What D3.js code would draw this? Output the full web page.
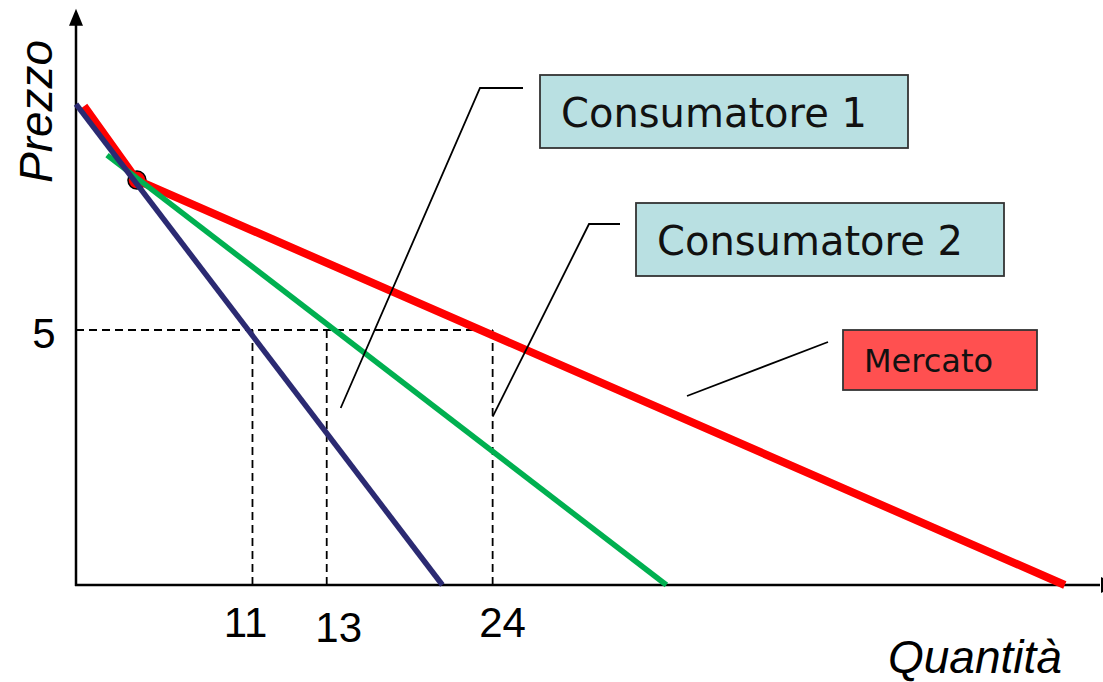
<!DOCTYPE html>
<html>
<head>
<meta charset="utf-8">
<script src="https://cdn.jsdelivr.net/npm/d3@7"></script>
<style>
  body { margin: 0; background: #fff; }
  svg { display: block; }
</style>
</head>
<body>
<svg></svg>
<script>
// demand curves, in chart units (quantity, price)
let consumatore1 = [[0, 9.43], [22.9, 0]]
let consumatore2 = [[1.94, 8.43], [36.9, 0]]
let mercato = [[0.5, 9.39], [3.81, 7.94], [61.8, 0]]
let kink = [[3.81, 7.94]]

// reference price and the quantities read at it
let prezzoRif = 5
let prezzoLabel = "5"
let quantita = [11.03, 15.67, 26.04]
let quantitaLabels = ["11", "13", "24"]

let width = 1103
let height = 682

let xScale
let yScale

let svg = d3.select('svg')

let drawCanvas = () => {
    svg.attr("width", width)
    svg.attr("height", height)
}

let generateScales = () => {
    xScale = d3.scaleLinear()
        .domain([0, 64])
        .range([76, 1100])

    yScale = d3.scaleLinear()
        .domain([0, 11.3])
        .range([585, 8.7])
}

let generateAxis = () => {
    let x0 = xScale(0), y0 = yScale(0)
    let x1 = xScale.range()[1], y1 = yScale.range()[1]

    svg.append("line")
        .attr("x1", x0).attr("y1", y0 + 1)
        .attr("x2", x0).attr("y2", y1 + 12)
        .attr("stroke", "#000").attr("stroke-width", 2.5)
    svg.append("path")
        .attr("d", `M${x0},${y1}L${x0 - 7},${y1 + 17}L${x0 + 7},${y1 + 17}Z`)
        .attr("fill", "#000")

    svg.append("line")
        .attr("x1", x0 - 1).attr("y1", y0)
        .attr("x2", x1).attr("y2", y0)
        .attr("stroke", "#000").attr("stroke-width", 2.5)
    svg.append("path")
        .attr("d", `M${x1 + 17},${y0}L${x1 + 1},${y0 - 8}L${x1 + 1},${y0 + 8}Z`)
        .attr("fill", "#000")

    svg.append("text")
        .attr("transform", "translate(52,183) rotate(-90)")
        .attr("font-family", "Liberation Sans, Arial, sans-serif")
        .attr("font-style", "italic")
        .attr("font-size", 46)
        .text("Prezzo")

    svg.append("text")
        .attr("x", 888).attr("y", 673)
        .attr("font-family", "Liberation Sans, Arial, sans-serif")
        .attr("font-style", "italic")
        .attr("font-size", 46)
        .text("Quantità")
}

let drawGuides = () => {
    let g = svg.append("g")
        .attr("stroke", "#000")
        .attr("stroke-width", 1.8)
        .attr("stroke-dasharray", "8,5")
        .attr("fill", "none")

    g.append("line")
        .attr("x1", xScale(0)).attr("x2", xScale(d3.max(quantita)))
        .attr("y1", yScale(prezzoRif)).attr("y2", yScale(prezzoRif))

    g.selectAll(".vq")
        .data(quantita)
        .enter()
        .append("line")
        .attr("class", "vq")
        .attr("x1", d => xScale(d)).attr("x2", d => xScale(d))
        .attr("y1", yScale(prezzoRif)).attr("y2", yScale(0))

    let dx = [-7, 12, 10]
    let dy = [52, 57, 52]
    svg.selectAll(".ql")
        .data(quantitaLabels)
        .enter()
        .append("text")
        .attr("class", "ql")
        .attr("x", (d, i) => xScale(quantita[i]) + dx[i])
        .attr("y", (d, i) => yScale(0) + dy[i])
        .attr("text-anchor", "middle")
        .attr("font-family", "Liberation Sans, Arial, sans-serif")
        .attr("font-size", 42)
        .text(d => d)

    svg.append("text")
        .attr("x", 44).attr("y", yScale(prezzoRif) + 18)
        .attr("text-anchor", "middle")
        .attr("font-family", "Liberation Sans, Arial, sans-serif")
        .attr("font-size", 42)
        .text(prezzoLabel)
}

let drawLines = () => {
    let line = d3.line()
        .x(d => xScale(d[0]))
        .y(d => yScale(d[1]))

    svg.selectAll(".kink")
        .data(kink)
        .enter()
        .append("circle")
        .attr("class", "kink")
        .attr("cx", d => xScale(d[0]))
        .attr("cy", d => yScale(d[1]))
        .attr("r", 9)
        .attr("fill", "#ff0000")
        .attr("stroke", "#000")
        .attr("stroke-width", 1.5)

    svg.append("path")
        .datum(mercato)
        .attr("d", line)
        .attr("fill", "none")
        .attr("stroke", "#ff0000")
        .attr("stroke-width", 8)
        .attr("stroke-linejoin", "round")

    svg.append("path")
        .datum(consumatore2)
        .attr("d", line)
        .attr("fill", "none")
        .attr("stroke", "#00b050")
        .attr("stroke-width", 5.5)

    svg.append("path")
        .datum(consumatore1)
        .attr("d", line)
        .attr("fill", "none")
        .attr("stroke", "#2b2a72")
        .attr("stroke-width", 5.5)
}

let drawCallouts = () => {
    let callouts = [
        { text: "Consumatore 1", x: 540, y: 75, w: 368, h: 73, fill: "#b9e0e2", size: 40, tx: 561, ty: 127,
          leader: [[523, 88], [480, 88], [340.7, 408]] },
        { text: "Consumatore 2", x: 636, y: 203, w: 368, h: 73, fill: "#b9e0e2", size: 40, tx: 657, ty: 255,
          leader: [[620, 224], [589, 224], [492.7, 416.7]] },
        { text: "Mercato", x: 843, y: 330, w: 194, h: 60, fill: "#ff5050", size: 32, tx: 864, ty: 372,
          leader: [[828, 342], [687, 396]] }
    ]

    callouts.forEach(c => {
        svg.append("path")
            .attr("d", d3.line()(c.leader))
            .attr("fill", "none")
            .attr("stroke", "#000")
            .attr("stroke-width", 1.8)

        svg.append("rect")
            .attr("x", c.x).attr("y", c.y)
            .attr("width", c.w).attr("height", c.h)
            .attr("fill", c.fill)
            .attr("stroke", "#333")
            .attr("stroke-width", 1.8)

        svg.append("text")
            .attr("x", c.tx).attr("y", c.ty)
            .attr("font-family", "DejaVu Sans, sans-serif")
            .attr("font-size", c.size)
            .attr("fill", "#111")
            .text(c.text)
    })
}

drawCanvas()
generateScales()
drawGuides()
generateAxis()
drawLines()
drawCallouts()
</script>
</body>
</html>
